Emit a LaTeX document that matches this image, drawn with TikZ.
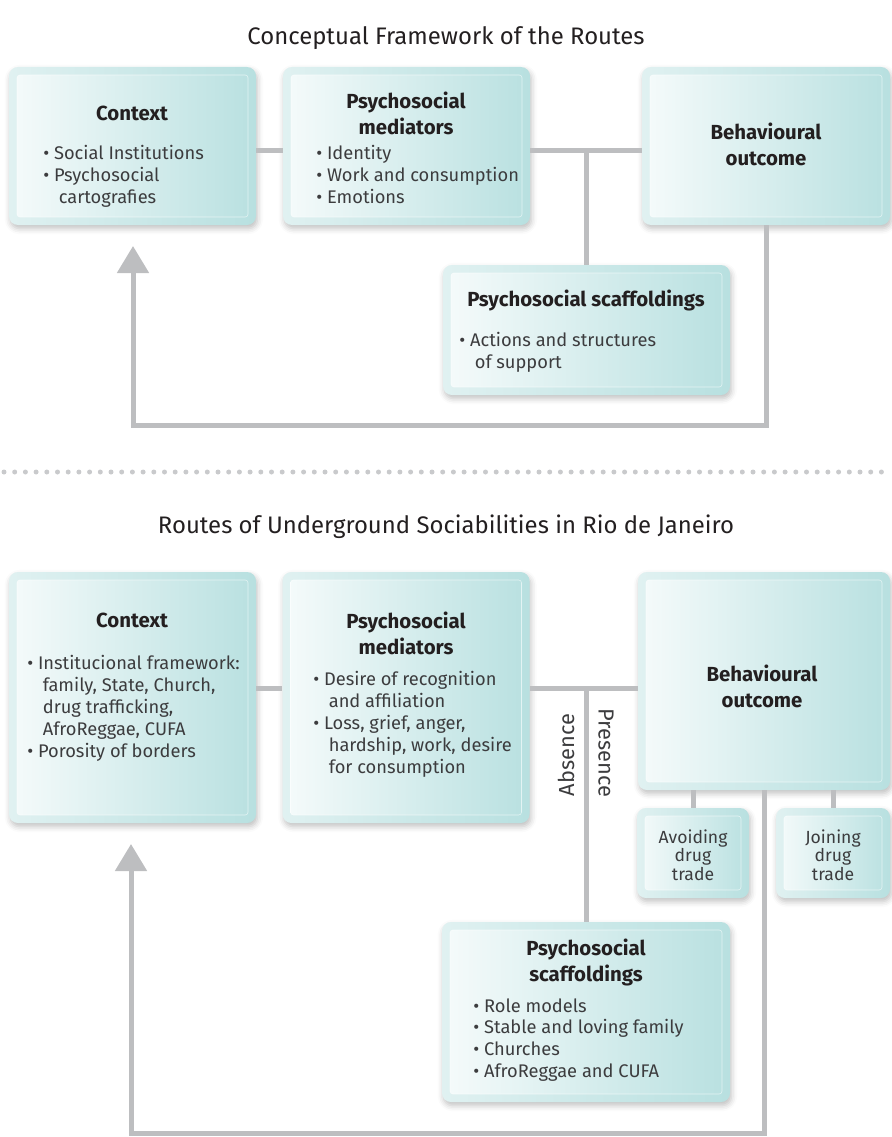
\documentclass[tikz,border=0pt]{standalone}
\usepackage{fontspec}
\setmainfont{Fira Sans}
\usetikzlibrary{positioning}
\usetikzlibrary{arrows.meta}
\usetikzlibrary{shadows.blur}
\newlength\pxu
\setlength\pxu{0.025cm}
\newcommand\cnt{\hspace*{0.85em}}
\definecolor{tealL}{HTML}{F6FBFB}
\definecolor{tealR}{HTML}{B8E0E0}
\definecolor{rimL}{HTML}{E0F1F1}
\definecolor{linegray}{HTML}{BDBEC0}
\definecolor{dotgray}{HTML}{C9CACC}
\definecolor{inkdark}{HTML}{231F20}
\definecolor{inktext}{HTML}{3C3C3E}
\tikzset{
  panel/.style={rounded corners=9\pxu, left color=rimL, right color=tealR,
    blur shadow={shadow xshift=1pt, shadow yshift=-2.5pt, shadow blur radius=4pt, shadow opacity=25},
    path picture={\shadedraw[left color=tealL, right color=tealR, draw=white, draw opacity=0.6,
      line width=0.4pt, rounded corners=2pt]
      ([shift={(8\pxu,-8\pxu)}]path picture bounding box.north west) rectangle
      ([shift={(-8\pxu,8\pxu)}]path picture bounding box.south east);}},
  head/.style={font=\fontsize{14.5}{18.5}\selectfont\bfseries, text=inkdark, align=center, inner sep=0pt},
  lst/.style={font=\fontsize{13}{15.6}\selectfont, text=inktext, align=left, anchor=north west, inner sep=0pt},
  small/.style={font=\fontsize{12.5}{13}\selectfont, text=inktext, align=center, inner sep=0pt},
  side/.style={font=\fontsize{15.5}{18}\selectfont, text=inktext, inner sep=0pt},
  ttl/.style={font=\fontsize{17}{20}\selectfont, text=inkdark, inner sep=0pt},
  wire/.style={draw=linegray, line width=5\pxu},
  back/.style={wire, -{Triangle[width=0.775cm, length=0.675cm]}}
}

\begin{document}
\begin{tikzpicture}[x=\pxu, y=-\pxu]
    \useasboundingbox (0,0) rectangle (892,1137);

    \node[ttl] (titleA) at (446,38) {Conceptual Framework of the Routes};

    \node[panel, minimum width=247\pxu, minimum height=158\pxu] (ctxA) at (132.5,146) {};
    \node[panel, minimum width=247\pxu, minimum height=158\pxu] (medA) at (406.5,146) {};
    \node[panel, minimum width=248\pxu, minimum height=158\pxu] (behA) at (766,146) {};
    \node[panel, minimum width=287\pxu, minimum height=130\pxu] (scfA) at (586.5,330) {};

    \node[head] (ctxAh) at (132,113) {Context};
    \node[lst] (ctxAl) at (43,145) {• Social Institutions\\• Psychosocial\\\cnt cartografies};
    \node[head] (medAh) at (406,113) {Psychosocial\\mediators};
    \node[lst] (medAl) at (316,145) {• Identity\\• Work and consumption\\• Emotions};
    \node[head] (behAh) at (766,144) {Behavioural\\outcome};
    \node[head] (scfAh) at (586,300) {Psychosocial scaffoldings};
    \node[lst] (scfAl) at (459,332) {• Actions and structures\\\cnt of support};

    \coordinate (levelA) at (0,150);
    \coordinate (tipA) at (133,246);
    \draw[wire] (ctxA.east |- levelA) -- (medA.west |- levelA);
    \draw[wire] (medA.east |- levelA) -- (behA.west |- levelA);
    \draw[wire] (scfA.north) -- (scfA.north |- levelA);
    \draw[back] (behA.south) -- ++(0,200) -| (tipA);

    \draw[dotgray, line width=5\pxu, line cap=round, dash pattern=on 0pt off 10.7\pxu] (4,472) -- (892,472);

    \node[ttl] (titleB) at (446,527) {Routes of Underground Sociabilities in Rio de Janeiro};

    \node[panel, minimum width=247\pxu, minimum height=251\pxu] (ctxB) at (132.5,697.5) {};
    \node[panel, minimum width=247\pxu, minimum height=251\pxu] (medB) at (406,697.5) {};
    \node[panel, minimum width=252\pxu, minimum height=218\pxu] (behB) at (764,681) {};
    \node[panel, minimum width=112\pxu, minimum height=90\pxu] (avB) at (693,853) {};
    \node[panel, minimum width=114\pxu, minimum height=90\pxu] (joB) at (833,853) {};
    \node[panel, minimum width=288\pxu, minimum height=180\pxu] (scfB) at (586,1012) {};

    \node[head] (ctxBh) at (132,620) {Context};
    \node[lst] (ctxBl) at (27,655) {• Institucional framework:\\\cnt family, State, Church,\\\cnt drug trafficking,\\\cnt AfroReggae, CUFA\\• Porosity of borders};
    \node[head] (medBh) at (406,633) {Psychosocial\\mediators};
    \node[lst] (medBl) at (313,671) {• Desire of recognition\\\cnt and affiliation\\• Loss, grief, anger,\\\cnt hardship, work, desire\\\cnt for consumption};
    \node[head] (behBh) at (762,686) {Behavioural\\outcome};
    \node[small] (avBt) at (693,855) {Avoiding\\drug\\trade};
    \node[small] (joBt) at (833,855) {Joining\\drug\\trade};
    \node[head] (scfBh) at (586,962) {Psychosocial\\scaffoldings};
    \node[lst] (scfBl) at (473,998) {• Role models\\• Stable and loving family\\• Churches\\• AfroReggae and CUFA};

    \coordinate (levelB) at (0,688);
    \coordinate (tipB) at (131,844);
    \draw[wire] (ctxB.east |- levelB) -- (medB.west |- levelB);
    \draw[wire] (medB.east |- levelB) -- (behB.west |- levelB);
    \draw[wire] (scfB.north) -- (scfB.north |- levelB);
    \draw[wire] (avB.north) -- (avB.north |- behB.south);
    \draw[wire] (joB.north) -- (joB.north |- behB.south);
    \draw[back] (behB.south) -- ++(0,343) -| (tipB);

    \node[side, rotate=90] (absB) at (566,755) {Absence};
    \node[side, rotate=-90] (preB) at (606,753) {Presence};
  \end{tikzpicture}
\end{document}
